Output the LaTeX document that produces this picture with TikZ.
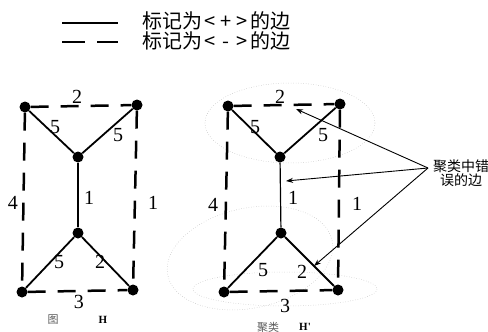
\documentclass[tikz,border=0pt]{standalone}
\usepackage{fontspec}
\newfontfamily\cjk{Noto Sans CJK SC}
\newfontfamily\numfont{Liberation Serif}
\usetikzlibrary{arrows.meta}
\begin{document}
\begin{tikzpicture}[x=1pt,y=-1pt,
  vertex/.style={circle,fill=black,inner sep=0pt,minimum size=11pt},
  posedge/.style={line width=1.8pt},
  negedge/.style={line width=2.5pt,dash pattern=on 18pt off 12pt},
  num/.style={inner sep=0pt,font=\numfont\fontsize{20}{20}\selectfont},
  captext/.style={inner sep=0pt,font=\numfont\bfseries\fontsize{11}{11}\selectfont},
  faint/.style={gray!55,line width=0.5pt,dotted},
  pointer/.style={line width=0.9pt,-{Stealth[length=7pt,width=5pt]}}]
\useasboundingbox (0,0) rectangle (488,332);
% legend
\coordinate (l1a) at (62,23); \coordinate (l1b) at (118,23);
\coordinate (l2a) at (62,42); \coordinate (l2b) at (118,42);
\draw[posedge] (l1a) -- (l1b);
\draw[line width=2.5pt,dash pattern=on 23pt off 12pt] (l2a) -- (l2b);
\node[anchor=west,inner sep=0pt,font=\cjk\fontsize{20}{20}\selectfont] (t1) at (142,21) {标记为\makebox[16pt]{<}\makebox[16pt]{+}\makebox[16pt]{>}的边};
\node[anchor=west,inner sep=0pt,font=\cjk\fontsize{20}{20}\selectfont] (t2) at (142,41) {标记为\makebox[16pt]{<}\makebox[16pt]{-}\makebox[16pt]{>}的边};
% faint cluster ellipses (right graph)
\draw[faint] (290,123) ellipse [x radius=85, y radius=40];
\draw[faint] (285,289) ellipse [x radius=92, y radius=17];
\draw[faint,rotate around={12:(250,258)}] (250,258) ellipse [x radius=84, y radius=50];
% left graph H
\node[vertex] (a1) at (25,107) {};
\node[vertex] (a2) at (137,105) {};
\node[vertex] (a3) at (78,157) {};
\node[vertex] (a4) at (78,233) {};
\node[vertex] (a5) at (22,292) {};
\node[vertex] (a6) at (133,290) {};
\draw[posedge] (a1) -- (a3);
\draw[posedge] (a2) -- (a3);
\draw[posedge,line width=1.2pt] (a3) -- (a4);
\draw[posedge] (a4) -- (a5);
\draw[posedge] (a4) -- (a6);
\draw[negedge] (a1) -- (a2);
\draw[negedge] (a1) -- (a5);
\draw[negedge] (a2) -- (a6);
\draw[negedge] (a5) -- (a6);
\node[num] at (77,97) {2};
\node[num] at (55,127) {5};
\node[num] at (118,135) {5};
\node[num] at (89,198) {1};
\node[num] at (13,203) {4};
\node[num] at (153,203) {1};
\node[num] at (59,262) {5};
\node[num] at (100,262) {2};
\node[num] at (79,302) {3};
\node[captext,font=\cjk\fontsize{11}{11}\selectfont,gray!70!black] (c1) at (53,320) {图};
\node[captext] (c2) at (103,320) {H};
% right graph H'
\node[vertex] (b1) at (228,106) {};
\node[vertex] (b2) at (340,104) {};
\node[vertex] (b3) at (280,157) {};
\node[vertex] (b4) at (281,233) {};
\node[vertex] (b5) at (224,292) {};
\node[vertex] (b6) at (338,290) {};
\draw[posedge] (b1) -- (b3);
\draw[posedge] (b2) -- (b3);
\draw[posedge,line width=1.2pt] (b3) -- (b4);
\draw[posedge] (b4) -- (b5);
\draw[posedge] (b4) -- (b6);
\draw[negedge] (b1) -- (b2);
\draw[negedge] (b1) -- (b5);
\draw[negedge] (b2) -- (b6);
\draw[negedge] (b5) -- (b6);
\node[num] at (280,97) {2};
\node[num] at (255,127) {5};
\node[num] at (323,135) {5};
\node[num] at (293,198) {1};
\node[num] at (213,205) {4};
\node[num] at (357,204) {1};
\node[num] at (263,270) {5};
\node[num] at (302,272) {2};
\node[num] at (285,306) {3};
\node[captext,font=\cjk\fontsize{11}{11}\selectfont,gray!70!black] (c3) at (268,327) {聚类};
\node[captext] (c4) at (305,327) {H'};
% annotation
\node[inner sep=0pt,align=center,font=\cjk\fontsize{14}{13}\selectfont] (err) at (461,173) {聚类中错\\误的边};
\coordinate (src) at (428,168);
\coordinate (e1) at (296,109);
\coordinate (e2) at (286,181);
\coordinate (e3) at (314,266);
\draw[pointer] (src) -- (e1);
\draw[pointer] (src) -- (e2);
\draw[pointer] (src) -- (e3);
\end{tikzpicture}
\end{document}
